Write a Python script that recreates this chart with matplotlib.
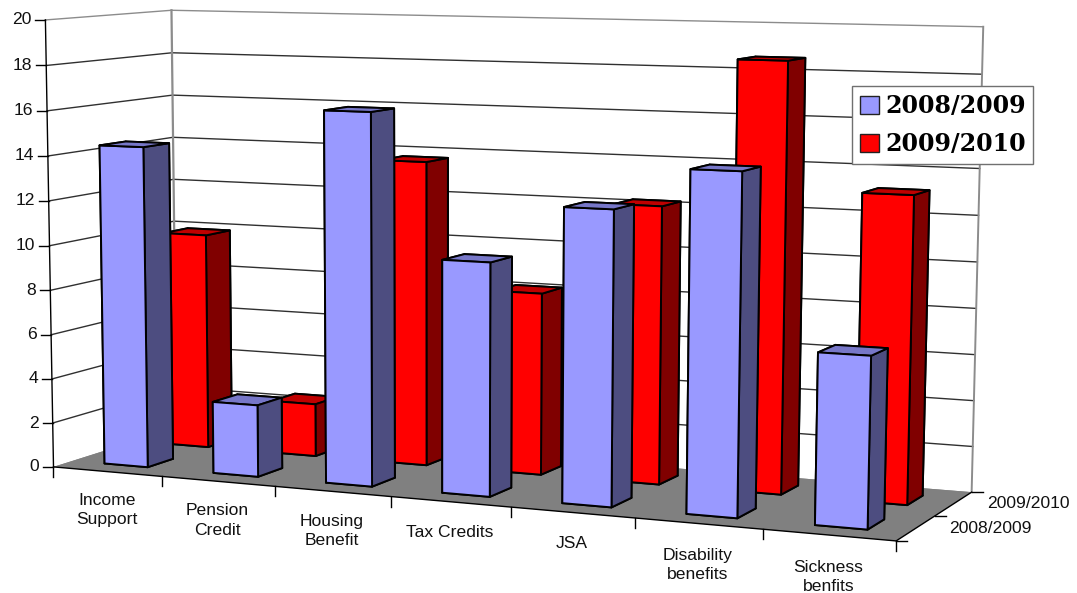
import numpy as np
import matplotlib
matplotlib.use('Agg')
from matplotlib import pyplot as plt
from matplotlib.patches import Patch

categories = ['Income\nSupport', 'Pension\nCredit', 'Housing\nBenefit', 'Tax Credits', 'JSA', 'Disability\nbenefits', 'Sickness\nbenfits']
seriesNames = ['2008/2009', '2009/2010']
values0809 = [14.4, 3.2, 16.3, 10.1, 12.6, 14.4, 7.15]
values0910 = [9.9, 2.4, 13.7, 8.1, 12.2, 18.6, 13.15]
zTicks = [0, 2, 4, 6, 8, 10, 12, 14, 16, 18, 20]

W, H = 1077, 593
plt.rcParams['font.family'] = ['Liberation Sans', 'DejaVu Sans']

# corners of the chart box (cat, series, value) and where they sit in pixels
boxPts = [(0, 0, 0), (0, 0, 20), (0, 2, 0), (0, 2, 20), (7, 2, 0), (7, 2, 20), (7, 0, 0)]
boxPix = [(55, 465), (44, 20), (175, 430), (173, 10), (972, 490), (983, 27), (896, 543)]

A = []
b = []
for (x, y, z), (u, v) in zip(boxPts, boxPix):
    A.append([x, y, z, 1, 0, 0, 0, 0, -u * x, -u * y, -u * z])
    A.append([0, 0, 0, 0, x, y, z, 1, -v * x, -v * y, -v * z])
    b += [u, v]
p = np.linalg.lstsq(np.array(A, float), np.array(b, float), rcond=None)[0]
# third row is only a depth for the painter sort: far = large
M = np.array([p[:4], p[4:8], [-0.1, 0.3, -0.01, 0], [p[8], p[9], p[10], 1.0]])


def project(x, y, z):
    h = M @ np.array([x, y, z, 1.0])
    return h[0] / h[3], h[1] / h[3]


def shifted(x, y, z, du, dv):
    # point in the plane of height z that lands du, dv pixels away from (x, y, z)
    u, v = project(x, y, z)
    u += du
    v += dv
    r0, r1, r3 = M[0], M[1], M[3]
    lhs = np.array([[r0[0] - u * r3[0], r0[1] - u * r3[1]],
                    [r1[0] - v * r3[0], r1[1] - v * r3[1]]])
    rhs = -np.array([r0[2] * z + r0[3] - u * (r3[2] * z + r3[3]),
                     r1[2] * z + r1[3] - v * (r3[2] * z + r3[3])])
    return np.linalg.solve(lhs, rhs)


def tick(x, y, z, du, dv):
    x2, y2 = shifted(x, y, z, du, dv)
    ax.plot([x, x2], [y, y2], [z, z], color='black', lw=1.0, zorder=2)


def label(x, y, z, du, dv, s, **kw):
    u, v = project(x, y, z)
    fig.text((u + du) / W, 1 - (v + dv) / H, s, fontsize=12.6, color='#111111', **kw)


fig = plt.figure(figsize=(W / 100, H / 100), dpi=100)
# square axes wider than the figure so that 2d view limits are plain pixels
ax = fig.add_axes([0, (H - W) / 2 / H, 1, W / H], projection='3d')
ax.computed_zorder = False
ax.set_axis_off()
ax.set_proj_type('ortho')  # ortho switches off the line clipping to [-1, 1]
ax.get_proj = lambda: M
ax.viewLim.intervalx = (0, W)
ax.viewLim.intervaly = (H + (W - H) / 2, -(W - H) / 2)

nCat = len(categories)
gridColor = '#303030'
edgeGrey = '#8c8c8c'

# floor
floor = ax.bar3d(0, 0, 0, nCat, 2, 0.001, color='#808080', shade=False, linewidth=0, zorder=1.5)

# gridlines on both walls
for t in zTicks:
    c = edgeGrey if t == 20 else gridColor
    if t > 0:
        ax.plot([0, 0, nCat], [0, 2, 2], [t, t, t], color=c, lw=1.0, zorder=1)
    tick(0, 0, t, -10, 0)
    label(0, 0, t, -14, 0, str(t), ha='right', va='center')
ax.plot([0, 0], [2, 2], [0, 20], color=edgeGrey, lw=1.6, zorder=1.2)
ax.plot([nCat, nCat], [2, 2], [0, 20], color=edgeGrey, lw=1.4, zorder=1.2)
ax.plot([0, 0], [0, 0], [0, 20], color='black', lw=1.0, zorder=2)
ax.plot([0, nCat, nCat], [0, 0, 2], [0, 0, 0], color='black', lw=1.0, zorder=2)

# category ticks and labels
for i in range(nCat + 1):
    tick(i, 0, 0, 0, 10)
for i, name in enumerate(categories):
    label(i + 0.5, 0, 0, -0.5, 21 + 0.6 * i, name, ha='center', va='top', multialignment='center', linespacing=1.38)

# series ticks and labels
for j in range(3):
    tick(nCat, j, 0, 11, 0)
for j, name in enumerate(seriesNames):
    label(nCat, j + 0.5, 0, 33, 0, name, ha='left', va='center')


def drawBars(vals, j, front, side, top, zo):
    for i, v in enumerate(vals):
        # face order of bar3d: -z +z -y +y -x +x
        ax.bar3d(i + 0.295, j + 0.30, 0, 0.40, 0.41, v,
                 color=[front, top, front, side, side, side],
                 shade=False, edgecolor='black', linewidth=1.4, zorder=zo + i * 0.01)


drawBars(values0910, 1, '#ff0000', '#800000', '#bf0000', 3)
drawBars(values0809, 0, '#9999ff', '#4d4d80', '#7777c8', 4)

handles = [Patch(facecolor='#9999ff', edgecolor='#222222', label=seriesNames[0]),
           Patch(facecolor='#ff0000', edgecolor='#222222', label=seriesNames[1])]
leg = ax.legend(handles=handles, loc='upper left', bbox_to_anchor=(852 / W, 1 - 86 / H),
                bbox_transform=fig.transFigure, fancybox=False, framealpha=1, edgecolor='#707070',
                prop={'family': 'DejaVu Serif', 'weight': 'bold', 'size': 17},
                handlelength=0.8, handleheight=0.8, handletextpad=0.27, borderpad=0.33,
                labelspacing=0.6, borderaxespad=0)
leg.set_zorder(20)

fig.savefig('out.png', dpi=100)
